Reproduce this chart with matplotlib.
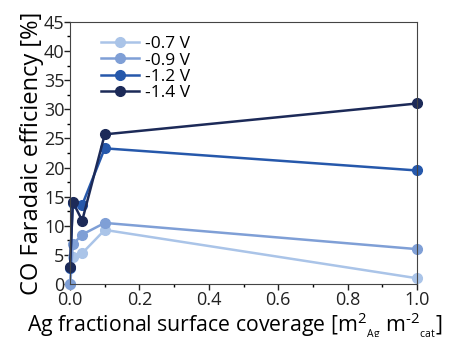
import matplotlib
matplotlib.use("Agg")
import matplotlib.pyplot as plt
from matplotlib.ticker import MultipleLocator

plt.rcParams["font.family"] = ["Open Sans", "DejaVu Sans"]
plt.rcParams["mathtext.default"] = "regular"

# data
coverage = [0, 0.008, 0.035, 0.1, 1.0]
labels = ["-0.7 V", "-0.9 V", "-1.2 V", "-1.4 V"]
fe_07 = [0, 4.6, 5.3, 9.3, 1.0]
fe_09 = [0, 6.8, 8.5, 10.5, 6.0]
fe_12 = [2.8, 14.0, 13.6, 23.3, 19.5]
fe_14 = [2.9, 14.1, 10.9, 25.7, 31.0]
colors = ["#aac4e8", "#7f9fd6", "#2658ab", "#1c2a58"]

fig = plt.figure(figsize=(4.49, 3.37), dpi=100)
ax = fig.add_axes([0.156, 0.157, 0.773, 0.778])

for vals, lab, c in zip([fe_07, fe_09, fe_12, fe_14], labels, colors):
    ax.plot(coverage, vals, "-o", color=c, lw=1.8, ms=7, label=lab, clip_on=False)

ax.set_xlim(0, 1.0)
ax.set_ylim(0, 45)
ax.xaxis.set_major_locator(MultipleLocator(0.2))
ax.xaxis.set_minor_locator(MultipleLocator(0.1))
ax.yaxis.set_major_locator(MultipleLocator(5))
ax.yaxis.set_minor_locator(MultipleLocator(2.5))
ax.tick_params(which="major", direction="out", length=4, width=1, labelsize=13, colors="#222222", pad=0)
ax.tick_params(which="minor", direction="out", length=2.5, width=1)
ax.tick_params(axis="x", which="major", pad=1)
for s in ax.spines.values():
    s.set_color("#444444")

ax.set_xlabel("Ag fractional surface coverage [m$^2$$_{_{Ag}}$ m$^{\u20102}$$_{_{cat}}$]", fontsize=15.3)
ax.xaxis.set_label_coords(0.474, -0.1)
ax.set_ylabel("CO Faradaic efficiency [%]", fontsize=17, labelpad=0)

ax.legend(loc="upper left", bbox_to_anchor=(0.06, 0.985), frameon=False, fontsize=12.5,
          handlelength=2.2, handletextpad=0.3, labelspacing=0.0, borderaxespad=0.2)

fig.savefig("out.png", dpi=100)
